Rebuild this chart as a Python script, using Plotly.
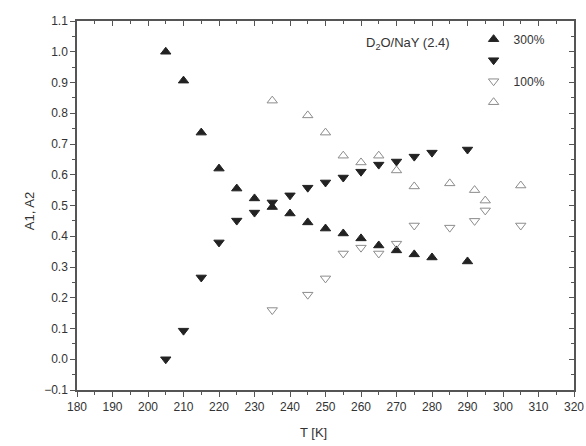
import plotly.graph_objects as go

# Temperature grid (K) and fitted amplitudes
T_300 = [205, 210, 215, 220, 225, 230, 235, 240, 245, 250, 255, 260, 265, 270, 275, 280, 290]
A1_300 = [1.0, 0.906, 0.737, 0.62, 0.555, 0.523, 0.495, 0.474, 0.445, 0.425, 0.409, 0.393,
          0.37, 0.354, 0.341, 0.331, 0.318]
A2_300 = [0.0, 0.093, 0.266, 0.38, 0.451, 0.477, 0.51, 0.533, 0.558, 0.575, 0.591, 0.61,
          0.633, 0.643, 0.659, 0.672, 0.682]

T_100 = [235, 245, 250, 255, 260, 265, 270, 275, 285, 292, 295, 305]
A1_100 = [0.16, 0.21, 0.263, 0.344, 0.363, 0.344, 0.376, 0.435, 0.428, 0.45, 0.484, 0.435]
A2_100 = [0.841, 0.793, 0.737, 0.662, 0.64, 0.662, 0.614, 0.562, 0.572, 0.55, 0.516, 0.565]

x_ticks = list(range(180, 321, 10))
y_ticks = [round(-0.1 + 0.1 * i, 1) for i in range(13)]

FONT = "Liberation Sans, Arial, sans-serif"
INK = "#222222"
TXT = "#333333"
AXC = "#555555"
GREY = "#8c8c8c"

fig = go.Figure()

series = [
    (T_300, A1_300, "triangle-up", INK, "300%"),
    (T_300, A2_300, "triangle-down", INK, "\u00a0"),
    (T_100, A1_100, "triangle-down-open", GREY, "100%"),
    (T_100, A2_100, "triangle-up-open", GREY, "\u00a0"),
]
for i, (tx, ty, sym, col, name) in enumerate(series):
    fig.add_trace(go.Scatter(
        x=tx, y=ty, mode="markers", name=name, legendgroup=f"g{i}",
        marker=dict(symbol=sym, size=9, color=col, line=dict(color=col, width=1)),
    ))

# empty trace so the mirrored top/right axes get drawn
fig.add_trace(go.Scatter(x=[], y=[], xaxis="x2", yaxis="y2", showlegend=False,
                         hoverinfo="skip", mode="markers"))

axis_common = dict(
    showline=True, linecolor=AXC, linewidth=1.5,
    showgrid=False, zeroline=False, automargin=False,
    tickfont=dict(family=FONT, size=12, color=TXT),
)
frame_common = dict(
    showline=True, linecolor=AXC, linewidth=1.5, showgrid=False, zeroline=False,
    showticklabels=False, ticks="inside", ticklen=5, tickcolor=AXC, automargin=False,
)

fig.update_layout(
    width=586, height=446,
    margin=dict(l=77, r=12, t=21, b=56),
    paper_bgcolor="white", plot_bgcolor="white",
    font=dict(family=FONT, color=INK),
    xaxis=dict(
        range=[180, 320], tickvals=x_ticks, ticks="outside", ticklen=5,
        tickwidth=1, tickcolor=AXC,
        minor=dict(ticks="outside", ticklen=3, dtick=5, tick0=180, tickcolor=AXC),
        **axis_common,
    ),
    yaxis=dict(
        range=[-0.1, 1.1], tickvals=y_ticks, tickformat=".1f", ticks="outside", ticklen=5,
        tickwidth=1, tickcolor=AXC,
        minor=dict(ticks="outside", ticklen=3, dtick=0.05, tick0=0, tickcolor=AXC),
        **axis_common,
    ),
    xaxis2=dict(
        range=[180, 320], overlaying="x", side="top", anchor="y2", tickvals=x_ticks,
        minor=dict(ticks="inside", ticklen=3, dtick=5, tick0=180, tickcolor=AXC),
        **frame_common,
    ),
    yaxis2=dict(
        range=[-0.1, 1.1], overlaying="y", side="right", anchor="x2", tickvals=y_ticks,
        minor=dict(ticks="inside", ticklen=3, dtick=0.05, tick0=0, tickcolor=AXC),
        **frame_common,
    ),
    showlegend=True,
    legend=dict(
        x=0.798, y=0.99, xanchor="left", yanchor="top",
        bgcolor="rgba(0,0,0,0)", borderwidth=0,
        font=dict(family=FONT, size=12, color=TXT),
        tracegroupgap=2, traceorder="grouped",
    ),
)

fig.add_annotation(
    x=0.667, y=0.94, xref="paper", yref="paper", showarrow=False,
    xanchor="center", yanchor="middle",
    text="D<sub>2</sub>O/NaY (2.4)",
    font=dict(family=FONT, size=13, color=TXT),
)
# axis titles
fig.add_annotation(
    x=0.475, y=-0.115, xref="paper", yref="paper", showarrow=False,
    xanchor="center", yanchor="middle", text="T [K]",
    font=dict(family=FONT, size=13, color=TXT),
)
fig.add_annotation(
    x=-0.095, y=0.484, xref="paper", yref="paper", showarrow=False,
    xanchor="center", yanchor="middle", text="A1, A2", textangle=-90,
    font=dict(family=FONT, size=13, color=TXT),
)

fig.write_html("out.html")
